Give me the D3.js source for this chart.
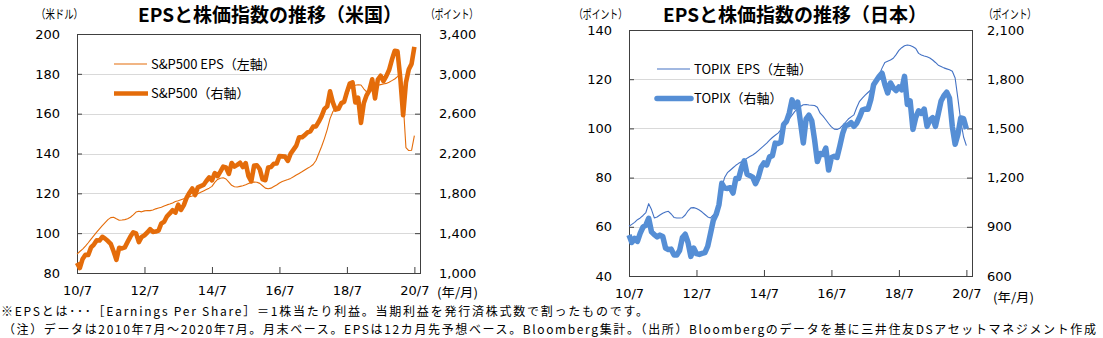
<!DOCTYPE html>
<html lang="ja">
<head>
<meta charset="utf-8">
<title>EPSと株価指数の推移</title>
<script src="https://cdn.jsdelivr.net/npm/d3@7"></script>
<style>
  body { margin: 0; background: #fff; }
  svg { display: block; }
  .jp { font-family: "Noto Sans CJK JP", sans-serif; fill: #000; white-space: pre; }
  .num { font-family: "DejaVu Sans", Verdana, sans-serif; font-size: 13px; fill: #000; }
</style>
</head>
<body>
<svg id="chart" width="1103" height="338"></svg>
<script>
// 月次データ：2010年7月～2020年7月（121か月、月末値）
const xTickLabels = ["10/7", "12/7", "14/7", "16/7", "18/7", "20/7"];
const xTickMonths = [0, 24, 48, 72, 96, 120];

// S&P500 12カ月先予想EPS（米ドル）
const spEps = [
  89.5, 90.8, 92.0, 93.5, 95.2, 97.0,
  98.8, 100.5, 102.2, 103.8, 105.3, 106.8, 107.8, 108.0, 107.2, 106.5, 106.6, 106.8,
  107.2, 108.0, 109.2, 110.6, 111.0, 110.7, 111.2, 111.4, 111.3, 111.6, 112.2, 112.6,
  113.0, 113.6, 114.2, 114.6, 115.2, 115.9, 116.3, 116.8, 117.3, 117.8, 118.3, 118.7,
  119.2, 119.8, 120.5, 121.2, 121.9, 122.6, 123.5, 125.5, 127.0, 127.6, 127.8, 127.2,
  125.6, 124.0, 123.3, 123.2, 123.5, 123.8, 124.3, 124.9, 125.5, 125.7, 125.6, 125.0,
  123.8, 122.6, 122.3, 122.6, 123.4, 124.2, 125.2, 125.9, 126.4, 126.9, 127.5, 128.3,
  129.2, 130.0, 130.8, 131.7, 132.6, 133.4, 134.5, 136.5, 140.0, 143.5, 147.5, 152.0,
  157.5, 161.0, 162.5, 163.5, 164.4, 166.0, 169.0, 172.5, 173.8, 174.3, 174.5, 174.4,
  172.5, 171.0, 171.5, 172.8, 173.9, 174.3, 174.6, 174.9, 175.2, 175.8, 176.6, 177.4,
  178.6, 180.2, 166.0, 143.0, 141.5, 141.6, 149.0
];

// S&P500（ポイント）
const spIndex = [
  1101.6, 1049.3, 1141.2, 1183.3, 1180.6, 1257.6,
  1286.1, 1327.2, 1325.8, 1363.6, 1345.2, 1320.6, 1292.3, 1218.9, 1131.4, 1253.3, 1247.0, 1257.6,
  1312.4, 1365.7, 1408.5, 1397.9, 1310.3, 1362.2, 1379.3, 1406.6, 1440.7, 1412.2, 1416.2, 1426.2,
  1498.1, 1514.7, 1569.2, 1597.6, 1630.7, 1606.3, 1685.7, 1633.0, 1681.6, 1756.5, 1805.8, 1848.4,
  1782.6, 1859.5, 1872.3, 1883.9, 1923.6, 1960.2, 1930.7, 2003.4, 1972.3, 2018.1, 2067.6, 2058.9,
  1995.0, 2104.5, 2067.9, 2085.5, 2107.4, 2063.1, 2104.0, 1972.2, 1920.0, 2079.4, 2080.4, 2043.9,
  1940.2, 1932.2, 2059.7, 2065.3, 2096.9, 2098.9, 2173.6, 2170.9, 2168.3, 2126.2, 2199.0, 2238.8,
  2278.9, 2363.6, 2362.7, 2384.2, 2411.8, 2423.4, 2470.3, 2471.7, 2519.4, 2575.3, 2647.6, 2673.6,
  2823.8, 2713.8, 2640.9, 2648.1, 2705.3, 2718.4, 2816.3, 2901.5, 2913.9, 2711.7, 2760.2, 2506.9,
  2704.1, 2784.5, 2834.4, 2945.8, 2752.1, 2941.8, 2980.4, 2926.5, 2976.7, 3037.6, 3141.0, 3230.8,
  3225.5, 2954.2, 2584.6, 2912.4, 3044.3, 3100.3, 3271.1
];

// TOPIX 12カ月先予想EPS（ポイント）
const topixEps = [
  60.2, 61.0, 61.8, 62.9, 63.6, 64.6,
  65.8, 69.4, 67.0, 63.6, 64.0, 64.8, 65.5, 66.0, 66.3, 65.2, 63.8, 63.6,
  63.6, 63.7, 64.8, 66.5, 67.7, 67.8, 67.4, 66.8, 66.0, 65.0, 64.0, 63.6,
  64.8, 66.3, 70.5, 76.0, 80.0, 82.0, 83.0, 84.0, 85.0, 85.8, 86.4, 87.0,
  87.9, 88.6, 89.2, 90.0, 91.0, 92.0, 93.0, 94.0, 95.2, 96.3, 97.2, 98.1,
  99.4, 100.8, 102.3, 103.8, 105.4, 106.9, 108.0, 108.9, 109.6, 109.7, 109.5, 109.4,
  109.3, 108.6, 106.2, 105.0, 103.5, 102.0, 100.6, 99.7, 99.6, 100.1, 101.2, 102.5,
  103.8, 104.7, 105.5, 108.5, 111.0, 112.3, 113.5, 114.6, 115.6, 117.5, 119.6, 121.7,
  124.5, 126.8, 127.3, 127.8, 128.5, 130.0, 131.7, 132.8, 133.6, 133.9, 133.7, 133.2,
  132.5, 130.5, 129.8, 129.4, 129.1, 128.6, 127.8, 126.8, 125.7, 125.2, 124.6, 124.2,
  123.8, 123.2, 120.5, 112.0, 103.0, 96.5, 93.0
];

// TOPIX（ポイント）
const topixIndex = [
  849.5, 804.7, 829.5, 810.9, 860.9, 898.8,
  910.1, 951.3, 869.4, 851.9, 838.5, 849.2, 841.4, 770.6, 761.2, 764.1, 728.5, 728.6,
  755.3, 835.0, 854.4, 804.3, 719.5, 770.1, 736.0, 731.6, 737.4, 742.3, 781.5, 859.8,
  940.3, 975.7, 1034.7, 1165.1, 1135.8, 1133.8, 1138.2, 1106.1, 1194.1, 1194.3, 1258.7, 1302.3,
  1220.6, 1211.7, 1202.9, 1162.4, 1201.4, 1262.6, 1289.4, 1277.1, 1326.3, 1333.6, 1410.3, 1407.5,
  1415.1, 1523.9, 1543.1, 1592.8, 1673.7, 1630.4, 1659.5, 1537.1, 1411.2, 1558.2, 1580.3, 1547.3,
  1432.1, 1297.9, 1347.2, 1340.6, 1379.8, 1245.8, 1322.7, 1329.5, 1322.8, 1393.0, 1469.4, 1518.6,
  1521.7, 1535.3, 1512.6, 1531.8, 1568.4, 1611.9, 1618.6, 1617.4, 1674.8, 1765.9, 1792.1, 1817.6,
  1836.7, 1768.2, 1716.3, 1777.2, 1747.5, 1730.9, 1753.3, 1735.4, 1817.3, 1646.1, 1667.5, 1494.1,
  1567.5, 1607.7, 1591.6, 1617.9, 1512.3, 1551.1, 1565.1, 1511.9, 1587.8, 1667.0, 1699.4, 1721.4,
  1684.4, 1510.9, 1403.0, 1464.0, 1563.7, 1558.8, 1496.1
];

const usLeftTicks = [80, 100, 120, 140, 160, 180, 200];
const usRightTicks = [1000, 1400, 1800, 2200, 2600, 3000, 3400];
const jpLeftTicks = [40, 60, 80, 100, 120, 140];
const jpRightTicks = [600, 900, 1200, 1500, 1800, 2100];

const svg = d3.select("#chart");
svg.append("rect").attr("width", 1103).attr("height", 338).attr("fill", "#fff");

function drawPanel(cfg) {
  const g = svg.append("g");
  const x = d3.scaleLinear().domain([0, 122]).range([cfg.x0, cfg.x1]);
  const yL = d3.scaleLinear().domain(d3.extent(cfg.leftTicks)).range([cfg.y1, cfg.y0]);
  const yR = d3.scaleLinear().domain(d3.extent(cfg.rightTicks)).range([cfg.y1, cfg.y0]);

  // 目盛線
  g.selectAll(".grid")
    .data(cfg.leftTicks.slice(1, -1))
    .enter()
    .append("line")
    .attr("x1", cfg.x0).attr("x2", cfg.x1)
    .attr("y1", d => Math.round(yL(d)) + 0.5).attr("y2", d => Math.round(yL(d)) + 0.5)
    .attr("stroke", "#d9d9d9");

  // 軸
  const axisColor = "#404040";
  const styleAxis = sel => {
    sel.select(".domain").remove();
    sel.selectAll(".tick line").attr("stroke", axisColor);
    sel.selectAll(".tick text").attr("class", "num").attr("fill", "#000");
  };

  g.append("g")
    .attr("transform", `translate(${cfg.x0},0)`)
    .call(d3.axisLeft(yL).tickValues(cfg.leftTicks).tickSizeInner(-5).tickSizeOuter(0).tickPadding(17))
    .call(styleAxis);

  g.append("g")
    .attr("transform", `translate(${cfg.x1},0)`)
    .call(d3.axisRight(yR).tickValues(cfg.rightTicks).tickFormat(d3.format(",")).tickSizeInner(-5).tickSizeOuter(0).tickPadding(cfg.rightPad))
    .call(styleAxis)
    .selectAll(".tick text").attr("text-anchor", "start");

  g.append("g")
    .attr("transform", `translate(0,${cfg.y1})`)
    .call(d3.axisBottom(x).tickValues(xTickMonths).tickFormat((d, i) => xTickLabels[i]).tickSizeInner(-6).tickSizeOuter(0).tickPadding(13))
    .call(styleAxis);

  // 枠線
  g.append("rect")
    .attr("x", cfg.x0 + 0.5).attr("y", cfg.y0 + 0.5)
    .attr("width", cfg.x1 - cfg.x0).attr("height", cfg.y1 - cfg.y0)
    .attr("fill", "none").attr("stroke", axisColor);

  // 折れ線（細線：EPS 左軸、太線：株価指数 右軸）
  const epsLine = d3.line().x((d, i) => x(i)).y(d => yL(d));
  const idxLine = d3.line().x((d, i) => x(i)).y(d => yR(d));

  g.append("path")
    .datum(cfg.eps)
    .attr("d", epsLine)
    .attr("fill", "none")
    .attr("stroke", cfg.thinColor)
    .attr("stroke-width", 1.1)
    .attr("stroke-linejoin", "round");

  g.append("path")
    .datum(cfg.index)
    .attr("d", idxLine)
    .attr("fill", "none")
    .attr("stroke", cfg.thickColor)
    .attr("stroke-width", cfg.thickWidth)
    .attr("stroke-linejoin", "round");

  // 凡例
  const lg = g.append("g").attr("transform", `translate(${cfg.legendX},${cfg.legendY})`);
  lg.append("line").attr("x1", 0).attr("x2", 33).attr("y1", 0).attr("y2", 0)
    .attr("stroke", cfg.thinColor).attr("stroke-width", 1.1);
  lg.append("text").attr("class", "jp").attr("x", 37).attr("y", 4.5)
    .attr("font-size", 13).text(cfg.epsLabel);
  lg.append("line").attr("x1", 0).attr("x2", 34).attr("y1", 29.5).attr("y2", 29.5)
    .attr("stroke", cfg.thickColor).attr("stroke-width", cfg.thickWidth)
    .attr("stroke-linecap", cfg.legendCap);
  lg.append("text").attr("class", "jp").attr("x", 37).attr("y", 34)
    .attr("font-size", 13).text(cfg.indexLabel);

  // タイトル・単位
  g.append("text").attr("class", "jp")
    .attr("x", cfg.titleX).attr("y", 22)
    .attr("text-anchor", "middle")
    .attr("font-size", 19).attr("font-weight", "bold")
    .text(cfg.title);

  cfg.units.forEach(u => {
    g.append("text").attr("class", "jp")
      .attr("x", u.x).attr("y", 18.5)
      .attr("font-size", 12)
      .attr("textLength", u.w).attr("lengthAdjust", "spacingAndGlyphs")
      .text(u.text);
  });

  g.append("text").attr("class", "jp")
    .attr("x", cfg.ymX).attr("y", cfg.ymY)
    .attr("font-size", 12.5)
    .attr("textLength", 41).attr("lengthAdjust", "spacingAndGlyphs")
    .text("(年/月)");
}

drawPanel({
  x0: 77, x1: 420, y0: 34, y1: 273,
  leftTicks: usLeftTicks, rightTicks: usRightTicks, rightPad: 19,
  eps: spEps, index: spIndex,
  thinColor: "#E46C0A", thickColor: "#E46C0A", thickWidth: 4.6, legendCap: "butt",
  legendX: 114, legendY: 64,
  epsLabel: "S&P500 EPS（左軸）", indexLabel: "S&P500（右軸）",
  title: "EPSと株価指数の推移（米国）", titleX: 270,
  units: [{ text: "（米ドル）", x: 36, w: 47 }, { text: "（ポイント）", x: 426, w: 52 }],
  ymX: 437, ymY: 297
});

drawPanel({
  x0: 629, x1: 972, y0: 30, y1: 276,
  leftTicks: jpLeftTicks, rightTicks: jpRightTicks, rightPad: 15,
  eps: topixEps, index: topixIndex,
  thinColor: "#4472C4", thickColor: "#558ED5", thickWidth: 5.5, legendCap: "round",
  legendX: 657, legendY: 69,
  epsLabel: "TOPIX  EPS（左軸）", indexLabel: "TOPIX（右軸）",
  title: "EPSと株価指数の推移（日本）", titleX: 795,
  units: [{ text: "（ポイント）", x: 574, w: 53 }, { text: "（ポイント）", x: 984, w: 52 }],
  ymX: 993, ymY: 302
});

// 注記
svg.append("text").attr("class", "jp")
  .attr("x", 1).attr("y", 316).attr("font-size", 12)
  .attr("textLength", 647)
  .text("※EPSとは･･･［Earnings Per Share］＝1株当たり利益。当期利益を発行済株式数で割ったものです。");
svg.append("text").attr("class", "jp")
  .attr("x", 3).attr("y", 333.5).attr("font-size", 12)
  .attr("textLength", 1093)
  .text("（注）データは2010年7月～2020年7月。月末ベース。EPSは12カ月先予想ベース。Bloomberg集計。（出所）Bloombergのデータを基に三井住友DSアセットマネジメント作成");
</script>
</body>
</html>
